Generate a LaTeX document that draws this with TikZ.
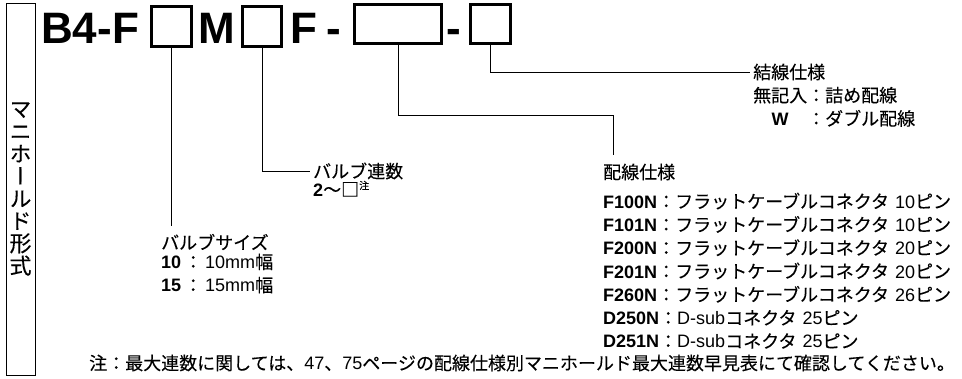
\documentclass[tikz,border=0pt]{standalone}
\usepackage{fontspec}
\setmainfont{Noto Sans CJK JP}[FakeBold=0.15]
\newfontfamily\jpvert{Noto Sans CJK JP}[RawFeature=+vert,FakeBold=0.15]
\newfontfamily\lat{Liberation Sans}
\usetikzlibrary{positioning}
\newcommand{\code}[1]{{\lat\bfseries #1}}
\newcommand{\lt}[1]{{\lat #1}}

\begin{document}
\begin{tikzpicture}[
  x=1pt,y=-1pt,
  title/.style={font=\lat\bfseries\fontsize{44}{44}\selectfont,inner sep=0,anchor=base west},
  slot/.style={draw,line width=3pt,inner sep=0,minimum width=40pt,minimum height=40pt},
  head/.style={font=\fontsize{18}{23}\selectfont,inner sep=0,anchor=west},
  body/.style={font=\fontsize{18}{23.3}\selectfont,inner sep=0,align=left},
  lead/.style={line width=1pt}
]
\useasboundingbox (0,0) rectangle (962,378);
\node[draw,line width=1pt,minimum width=29pt,minimum height=372pt,inner sep=0,align=center,font=\jpvert\fontsize{22}{22.4}\selectfont] (kind) at (20.5,189) {マ\\ニ\\ホ\\ー\\ル\\ド\\形\\式};
% model code
\node[title] (tB) at (41,43) {B4-F};
\node[slot] (size) at (171.5,26.5) {};
\node[title] (tM) at (198,43) {M};
\node[slot,minimum width=39pt] (count) at (262,26.5) {};
\node[title] (tF) at (290,43) {F};
\node[title] (tdashA) at (326,43) {-};
\node[slot,minimum width=87pt,minimum height=39pt] (wiring) at (398,24) {};
\node[title] (tdashB) at (446,43) {-};
\node[slot,minimum height=39pt] (join) at (490.5,24) {};
% labels
\node[head] (sizehead) at (161,242) {バルブサイズ};
\node[body,below right=3pt and 0pt of sizehead.south west] (sizebody) {\code{10}\hspace{3pt}：\hspace{3pt}\lt{10mm}幅\\\code{15}\hspace{3pt}：\hspace{3pt}\lt{15mm}幅};
\node[head] (counthead) at (313,171) {バルブ連数};
\node[body,below right=1pt and 0pt of counthead.south west] (countbody) {\code{2}～□\raisebox{7pt}{\fontsize{10}{10}\selectfont 注}};
\node[head] (joinhead) at (753,72) {結線仕様};
\node[body,below right=5pt and 0pt of joinhead.south west] (joinbody) {\begin{tabular}{@{}c@{}l@{}}無記入&：詰め配線\\\code{W}&：ダブル配線\end{tabular}};
\node[head] (wirehead) at (603,172) {配線仕様};
\node[body,below right=12pt and 0pt of wirehead.south west] (wirebody) {\code{F100N}：フラットケーブルコネクタ\hspace{6pt}\lt{10}ピン\\
  \code{F101N}：フラットケーブルコネクタ\hspace{6pt}\lt{10}ピン\\
  \code{F200N}：フラットケーブルコネクタ\hspace{6pt}\lt{20}ピン\\
  \code{F201N}：フラットケーブルコネクタ\hspace{6pt}\lt{20}ピン\\
  \code{F260N}：フラットケーブルコネクタ\hspace{6pt}\lt{26}ピン\\
  \code{D250N}：\lt{D-sub}コネクタ\hspace{6pt}\lt{25}ピン\\
  \code{D251N}：\lt{D-sub}コネクタ\hspace{6pt}\lt{25}ピン};
\node[body,anchor=west] (note) at (89,363) {注：最大連数に関しては、\lt{47}、\lt{75}ページの配線仕様別マニホールド最大連数早見表にて確認してください。};
% leaders
\coordinate (wirebend) at (613,115);
\draw[lead,shorten >=8pt] (size.south) -- (size.south |- sizehead.north);
\draw[lead,shorten >=3pt] (count.south) |- (counthead.west);
\draw[lead,shorten >=8pt] (wiring.south) |- (wirebend) -- (wirebend |- wirehead.north);
\draw[lead,shorten >=3pt] (join.south) |- (joinhead.west);
\end{tikzpicture}
\end{document}
